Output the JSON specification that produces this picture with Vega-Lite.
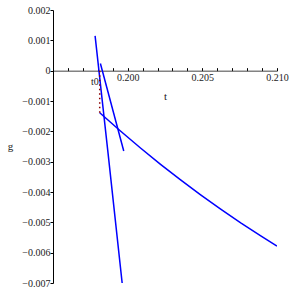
{
  "$schema": "https://vega.github.io/schema/vega-lite/v6.json",
  "autosize": {"type": "none"},
  "padding": {"left": 53, "top": 10, "right": 16, "bottom": 10},
  "width": 224,
  "height": 273,
  "background": "white",
  "config": {
    "view": {"stroke": null},
    "axis": {
      "labelFont": "Liberation Serif",
      "titleFont": "Liberation Serif",
      "labelFontSize": 10,
      "titleFontSize": 11,
      "titleFontWeight": "normal",
      "labelColor": "#222222",
      "titleColor": "#222222",
      "domainColor": "#000000",
      "tickColor": "#000000",
      "labelOverlap": false,
      "labelFlush": false,
      "labelBound": false,
      "grid": false
    }
  },
  "datasets": {
    "curves": [
      {"s": "A", "i": 0, "t": 0.198174, "g": 0.000238},
      {"s": "A", "i": 1, "t": 0.199738, "g": -0.00265},
      {"s": "B", "i": 0, "t": 0.197819, "g": 0.001145},
      {"s": "B", "i": 1, "t": 0.198664, "g": -0.002617},
      {"s": "B", "i": 2, "t": 0.199631, "g": -0.007},
      {"s": "C", "i": 0, "t": 0.198128, "g": -0.001386},
      {"s": "C", "i": 1, "t": 0.199517, "g": -0.001989},
      {"s": "C", "i": 2, "t": 0.200859, "g": -0.002549},
      {"s": "C", "i": 3, "t": 0.202201, "g": -0.003087},
      {"s": "C", "i": 4, "t": 0.203544, "g": -0.003603},
      {"s": "C", "i": 5, "t": 0.204886, "g": -0.004096},
      {"s": "C", "i": 6, "t": 0.206228, "g": -0.004567},
      {"s": "C", "i": 7, "t": 0.20757, "g": -0.005017},
      {"s": "C", "i": 8, "t": 0.208913, "g": -0.005444},
      {"s": "C", "i": 9, "t": 0.21, "g": -0.005783}
    ],
    "marker": [
      {"t": 0.198128, "g": 0, "g2": -0.001386, "label": "t0"}
    ]
  },
  "encoding": {
    "x": {
      "field": "t", "type": "quantitative",
      "scale": {"domain": [0.195, 0.21], "nice": false, "zero": false},
      "axis": {
        "orient": "bottom",
        "offset": -212.33,
        "title": "t",
        "titlePadding": 8,
        "values": [0.196, 0.197, 0.198, 0.199, 0.2, 0.201, 0.202, 0.203, 0.204, 0.205, 0.206, 0.207, 0.208, 0.209, 0.21],
        "labelExpr": "(abs(datum.value - 0.2) < 1e-6 || abs(datum.value - 0.205) < 1e-6 || abs(datum.value - 0.21) < 1e-6) ? format(datum.value, '.3f') : ''",
        "tickSize": -3,
        "labelPadding": 5,
        "labelOverlap": false,
        "domainColor": "#444444"
      }
    },
    "y": {
      "field": "g", "type": "quantitative",
      "scale": {"domain": [-0.007, 0.002], "nice": false, "zero": false},
      "axis": {
        "title": "g",
        "titleAngle": 0,
        "titleX": -43,
        "titleY": 136.5,
        "titleAlign": "center",
        "titleBaseline": "middle",
        "values": [-0.007, -0.006, -0.005, -0.004, -0.003, -0.002, -0.001, 0, 0.001, 0.002],
        "labelExpr": "abs(datum.value) < 1e-9 ? '0' : replace(format(datum.value, '.3f'), '-', '\u2212')",
        "tickSize": 3,
        "labelPadding": 0,
        "labelOverlap": false
      }
    }
  },
  "layer": [
    {
      "data": {"name": "curves"},
      "mark": {"type": "line", "color": "#0000ff", "strokeWidth": 1.5, "clip": true},
      "encoding": {
        "detail": {"field": "s"},
        "order": {"field": "i"}
      }
    },
    {
      "data": {"name": "marker"},
      "mark": {"type": "rule", "color": "#8b0000", "strokeWidth": 1.5, "strokeDash": [1.5, 3]},
      "encoding": {
        "y2": {"field": "g2"}
      }
    },
    {
      "data": {"name": "marker"},
      "mark": {"type": "text", "align": "right", "baseline": "middle", "dx": -1, "dy": 11, "font": "Liberation Serif", "fontSize": 10, "color": "#222222"},
      "encoding": {
        "text": {"field": "label"}
      }
    }
  ]
}
